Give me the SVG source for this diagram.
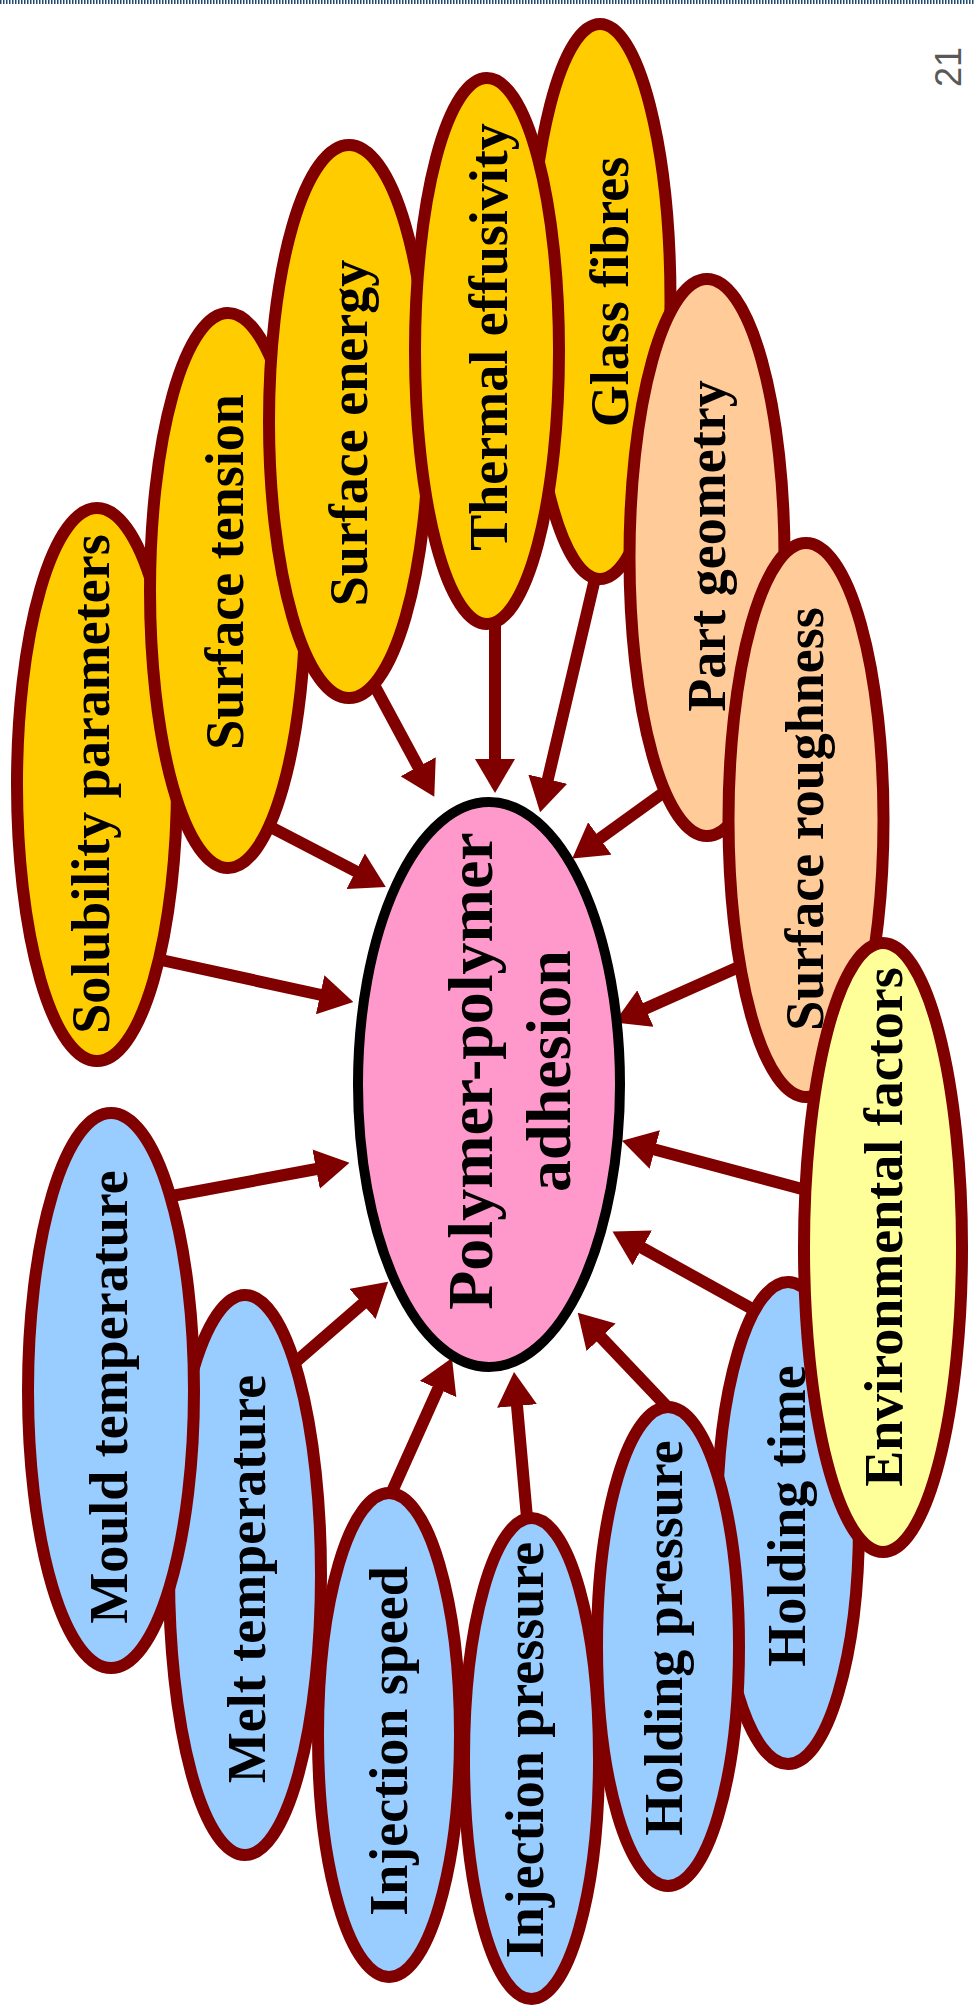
<svg xmlns="http://www.w3.org/2000/svg" width="974" height="2015" viewBox="0 0 974 2015">
<style>
.n ellipse{stroke:#800000;stroke-width:12}
.y ellipse{fill:#FFCC00}
.o ellipse{fill:#FFCC99}
.b ellipse{fill:#99CCFF}
.lbl{font-family:"Liberation Serif","Times New Roman",serif;font-weight:bold;font-size:54px;text-anchor:middle;fill:#000}
.c line{stroke:#800000;stroke-width:12;marker-end:url(#ah)}
</style>
<defs>
<marker id="ah" markerUnits="userSpaceOnUse" markerWidth="34" markerHeight="40" refX="6" refY="20" orient="auto" viewBox="0 0 34 40"><path d="M0,0 L34,20 L0,40 z" fill="#800000"/></marker>
</defs>
<rect width="974" height="2015" fill="#fff"/>
<line x1="0" y1="2" x2="974" y2="2" stroke="#1f4a6e" stroke-width="4" stroke-dasharray="1.5 1.5"/>
<text transform="translate(961,67) rotate(-90)" font-family="Liberation Sans,Arial,sans-serif" font-size="36" fill="#595959" text-anchor="middle">21</text>
<g id="connectors" class="c">
<line x1="152" y1="958" x2="326" y2="996"/>
<line x1="261" y1="822" x2="361" y2="874"/>
<line x1="372" y1="681" x2="421" y2="772"/>
<line x1="495" y1="615" x2="495" y2="765"/>
<line x1="597" y1="570" x2="546.5" y2="785"/>
<line x1="674" y1="785" x2="595" y2="842"/>
<line x1="759" y1="958" x2="640" y2="1011"/>
<line x1="817" y1="1193" x2="649" y2="1148"/>
<line x1="756" y1="1311" x2="637" y2="1245"/>
<line x1="672" y1="1412" x2="597" y2="1333"/>
<line x1="528" y1="1529" x2="516.5" y2="1400"/>
<line x1="386" y1="1505" x2="440.5" y2="1383.5"/>
<line x1="291" y1="1366" x2="367" y2="1300"/>
<line x1="161" y1="1198" x2="322" y2="1168"/>
</g>
<g id="solubility" class="n y"><ellipse cx="97" cy="784.5" rx="80" ry="276.5"/><text class="lbl" transform="translate(109,784) rotate(-90)">Solubility parameters</text></g>
<g id="surface-tension" class="n y"><ellipse cx="228" cy="590.5" rx="78" ry="277.5"/><text class="lbl" transform="translate(243,572) rotate(-90)">Surface tension</text></g>
<g id="surface-energy" class="n y"><ellipse cx="349" cy="421.5" rx="80" ry="276.5"/><text class="lbl" transform="translate(367,433) rotate(-90)">Surface energy</text></g>
<g id="glass-fibres" class="n y"><ellipse cx="600" cy="301.5" rx="70.5" ry="277.5"/><text class="lbl" transform="translate(628,292) rotate(-90)">Glass fibres</text></g>
<g id="thermal-effusivity" class="n y"><ellipse cx="487" cy="351" rx="72" ry="273"/><text class="lbl" transform="translate(507,337) rotate(-90)">Thermal effusivity</text></g>
<g id="part-geometry" class="n o"><ellipse cx="707" cy="557.5" rx="77.5" ry="278.5"/><text class="lbl" transform="translate(725,546) rotate(-90)">Part geometry</text></g>
<g id="surface-roughness" class="n o"><ellipse cx="806" cy="820" rx="77.5" ry="277"/><text class="lbl" transform="translate(823,819) rotate(-90)">Surface roughness</text></g>
<g id="holding-time" class="n b"><ellipse cx="788" cy="1523" rx="71" ry="241"/><text class="lbl" transform="translate(805,1516) rotate(-90)">Holding time</text></g>
<g id="holding-pressure" class="n b"><ellipse cx="668" cy="1646.5" rx="71" ry="239.5"/><text class="lbl" transform="translate(682,1638) rotate(-90)">Holding pressure</text></g>
<g id="injection-pressure" class="n b"><ellipse cx="531.5" cy="1758.5" rx="67.5" ry="240.5"/><text class="lbl" transform="translate(543,1750) rotate(-90)">Injection pressure</text></g>
<g id="injection-speed" class="n b"><ellipse cx="389" cy="1735" rx="71" ry="242"/><text class="lbl" transform="translate(407,1741) rotate(-90)">Injection speed</text></g>
<g id="melt-temperature" class="n b"><ellipse cx="245" cy="1575" rx="76" ry="280"/><text class="lbl" transform="translate(265,1579) rotate(-90)">Melt temperature</text></g>
<g id="mould-temperature" class="n b"><ellipse cx="111" cy="1390.5" rx="83" ry="277.5"/><text class="lbl" transform="translate(127,1397) rotate(-90)">Mould temperature</text></g>
<g id="environmental-factors" class="n"><ellipse cx="883" cy="1247.5" rx="79" ry="304.5" fill="#FFFF99"/><text class="lbl" transform="translate(902,1227) rotate(-90)">Environmental factors</text></g>
<g id="polymer-adhesion"><ellipse cx="489" cy="1084.5" rx="131" ry="282.5" fill="#FF99CC" stroke="#000" stroke-width="10"/><text class="lbl" style="font-size:64px" transform="translate(0,1071) rotate(-90)"><tspan x="0" y="492">Polymer-polymer</tspan><tspan x="0" y="570">adhesion</tspan></text></g>
</svg>
